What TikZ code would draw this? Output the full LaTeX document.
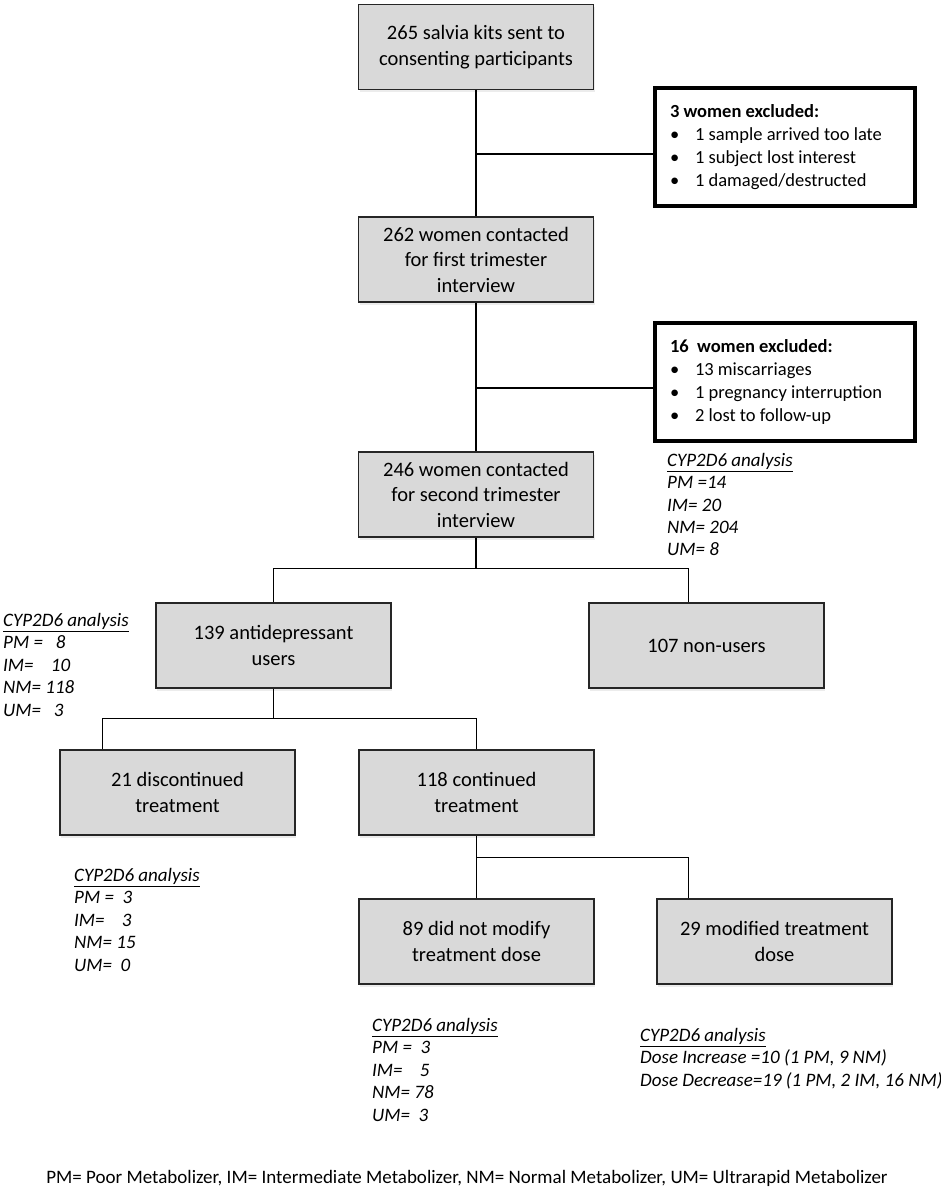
\documentclass[tikz,border=0pt]{standalone}
\usepackage{fontspec}
\setmainfont{Carlito}
\usetikzlibrary{shadows}

\begin{document}
\begin{tikzpicture}[x=1pt,y=1pt]
% Styles
\tikzstyle{boite}=[draw=black!85,line width=1.3pt,fill=black!15,minimum width=235pt,minimum height=85pt,inner sep=0pt,align=center,font=\fontsize{20.5}{25.5}\selectfont,drop shadow={shadow xshift=1pt,shadow yshift=-3pt,opacity=0.15}]
\tikzstyle{exclu}=[draw=black,line width=3.2pt,fill=white,minimum width=260pt,minimum height=118pt,inner xsep=15pt,inner ysep=0pt,text width=230pt,align=flush left,font=\fontsize{18.5}{22.8}\selectfont]
\tikzstyle{analyse}=[inner sep=0pt,anchor=north west,align=flush left,font=\fontsize{19}{22.4}\selectfont\itshape]
\tikzstyle{trait}=[line width=1.3pt,black]
% Puce des listes
\def\puce{\makebox[25pt][l]{\textbullet}}
% Cadre de la figure
\useasboundingbox (0,0) rectangle (941,-1196);
% Colonne principale
\node[boite] (b265) at (476,-47) {265 salvia kits sent to\\consenting participants};
\node[boite] (b262) at (476,-259.5) {262 women contacted\\for first trimester\\interview};
\node[boite] (b246) at (476,-494.5) {246 women contacted\\for second trimester\\interview};
% Exclusions
\node[exclu] (ex1) at (785,-147) {\textbf{3 women excluded:}\\\puce 1 sample arrived too late\\\puce 1 subject lost interest\\\puce 1 damaged/destructed};
\node[exclu] (ex2) at (785,-382) {\textbf{16\ \ women excluded:}\\\puce 13 miscarriages\\\puce 1 pregnancy interruption\\\puce 2 lost to follow-up};
% Utilisatrices / non-utilisatrices
\node[boite] (b139) at (273.5,-645.5) {139 antidepressant\\users};
\node[boite] (b107) at (706.5,-645.5) {107 non-users};
% Traitement
\node[boite] (b21) at (177.5,-792.5) {21 discontinued\\treatment};
\node[boite] (b118) at (476.5,-792.5) {118 continued\\treatment};
\node[boite] (b89) at (476.5,-941.5) {89 did not modify\\treatment dose};
\node[boite] (b29) at (774.5,-941.5) {29 modified treatment\\dose};
% Analyses CYP2D6
\node[analyse] (a246) at (667,-453) {\underline{CYP2D6 analysis}\\PM =14\\IM= 20\\NM= 204\\UM= 8};
\node[analyse] (a139) at (3,-613) {\underline{CYP2D6 analysis}\\PM =\ \ \ 8\\IM=\ \ \ \ 10\\NM= 118\\UM=\ \ \ 3};
\node[analyse] (a21) at (74,-868) {\underline{CYP2D6 analysis}\\PM =\ \ 3\\IM=\ \ \ \ 3\\NM= 15\\UM=\ \ 0};
\node[analyse] (a89) at (372,-1018) {\underline{CYP2D6 analysis}\\PM =\ \ 3\\IM=\ \ \ \ 5\\NM= 78\\UM=\ \ 3};
\node[analyse] (a29) at (640,-1028) {\underline{CYP2D6 analysis}\\Dose Increase =10 (1 PM, 9 NM)\\Dose Decrease=19 (1 PM, 2 IM, 16 NM)};
% Legende
\node[font=\fontsize{19}{22}\selectfont] (leg) at (467,-1178) {PM= Poor Metabolizer, IM= Intermediate Metabolizer, NM= Normal Metabolizer, UM= Ultrarapid Metabolizer};
% Liaisons
\draw[trait] (b265) -- (b262);
\draw[trait] (b262) -- (b246);
\coordinate (j1) at (476,-154);
\coordinate (j2) at (476,-388);
\draw[trait] (j1) -- (j1 -| ex1.west);
\draw[trait] (j2) -- (j2 -| ex2.west);
\draw[trait] (b246.south) -- ++(0,-31) coordinate (n1);
\draw[trait] (b139.north) |- (n1) -| ([xshift=100pt]b107.north west);
\draw[trait] (b139.south) -- ++(0,-30) coordinate (n2);
\draw[trait] (n2) -| ([xshift=43pt]b21.north west);
\draw[trait] (n2) -| (b118.north);
\draw[trait] (b118) -- (b89);
\draw[trait] (b118.south) ++(0,-22) coordinate (n3) -| ([xshift=32pt]b29.north west);
\end{tikzpicture}
\end{document}
